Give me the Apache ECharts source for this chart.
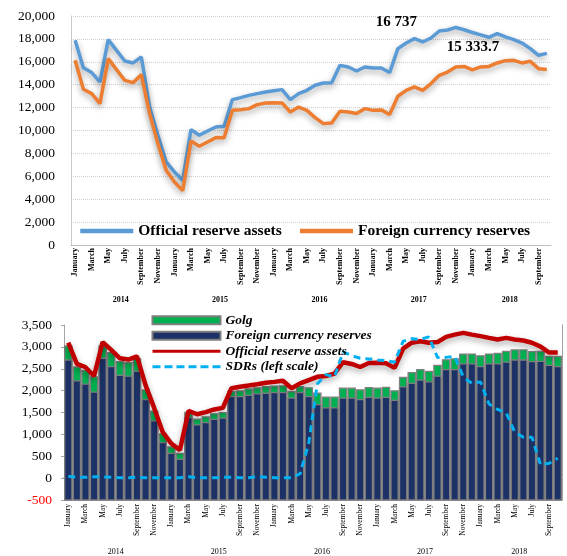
<!DOCTYPE html>
<html>
<head>
<meta charset="utf-8">
<script src="https://cdn.jsdelivr.net/npm/echarts@6/dist/echarts.min.js"></script>
<style>
  html, body { margin: 0; padding: 0; background: #fff; }
  #chart { width: 567px; height: 556px; }
</style>
</head>
<body>
<div id="chart"></div>
<script>
// months Jan 2014 .. Oct 2018
const monthNames = ['January', 'February', 'March', 'April', 'May', 'June', 'July',
  'August', 'September', 'October', 'November', 'December'];
const years = ['2014', '2015', '2016', '2017', '2018'];
const monthsInYear = [12, 12, 12, 12, 10];

// top chart, USD mln
const officialTop = [17880, 15490, 15060, 14240, 17940, 17000, 16070, 15900, 16420, 12050, 9580, 7250,
  6380, 5650, 10080, 9580, 9960, 10310, 10370, 12700, 12870, 13070, 13220, 13360,
  13480, 13570, 12700, 13220, 13510, 13950, 14150, 14180, 15690, 15550, 15200, 15550,
  15460, 15460, 15060, 17150, 17640, 18020, 17730, 18080, 18690, 18780, 19000, 18800,
  18560, 18350, 18140, 18460, 18170, 17940, 17640, 17150, 16570, 16737];
const foreignTop = [16130, 13600, 13220, 12350, 16280, 15320, 14380, 14180, 14880, 11480, 8860, 6520,
  5500, 4750, 9080, 8620, 9000, 9380, 9360, 11760, 11820, 11910, 12260, 12400,
  12420, 12400, 11620, 12050, 11760, 11120, 10600, 10660, 11680, 11620, 11480, 11910,
  11760, 11800, 11390, 12990, 13510, 13800, 13510, 14100, 14820, 15100, 15550, 15600,
  15300, 15550, 15600, 15900, 16100, 16130, 15900, 16040, 15400, 15333.7];

// bottom chart
const foreignBottom = [2700, 2225, 2150, 1965, 2740, 2550, 2350, 2330, 2440, 1795, 1310, 810,
  565, 430, 1385, 1215, 1270, 1345, 1370, 1865, 1865, 1890, 1925, 1940,
  1955, 1955, 1830, 1955, 1865, 1680, 1605, 1605, 1830, 1830, 1795, 1845,
  1830, 1845, 1780, 2085, 2165, 2240, 2200, 2330, 2480, 2480, 2610, 2610,
  2550, 2610, 2610, 2650, 2700, 2700, 2665, 2670, 2575, 2550];
const gold = [320, 315, 310, 350, 280, 320, 315, 310, 285, 220, 220, 200,
  150, 135, 115, 135, 130, 125, 125, 115, 130, 150, 140, 150,
  150, 155, 150, 135, 200, 260, 245, 245, 225, 225, 220, 225,
  225, 230, 215, 215, 245, 240, 240, 245, 225, 245, 225, 225,
  245, 225, 240, 245, 230, 230, 225, 225, 210, 230];
const officialBottom = [3095, 2610, 2535, 2335, 3110, 2930, 2740, 2710, 2785, 2125, 1605, 1050,
  790, 640, 1535, 1460, 1510, 1570, 1605, 2055, 2090, 2115, 2145, 2180,
  2200, 2225, 2055, 2165, 2240, 2315, 2335, 2390, 2650, 2610, 2540, 2630,
  2635, 2625, 2520, 2960, 3095, 3130, 3095, 3110, 3230, 3280, 3320, 3280,
  3245, 3205, 3170, 3205, 3170, 3145, 3095, 3005, 2870, 2870];
const sdr = [40, 20, 20, 30, 30, 20, 10, 10, 20, 10, 10, 10,
  10, 10, 30, 10, 10, 10, 20, 20, 10, 10, 40, 20,
  10, 10, 10, 100, 800, 2150, 2365, 2315, 2885, 2800, 2740, 2725,
  2700, 2685, 2650, 3130, 3185, 3170, 3230, 2760, 2760, 2785, 2315, 2165,
  2200, 1695, 1570, 1495, 1050, 935, 935, 305, 340, 455];

const yTop = { min: 0, max: 20000, step: 2000 };
const yBottom = { min: -500, max: 3500, step: 500 };

// category lists
const months = [];
const yearOfMonth = [];
const yearLabelIdx = [];
let start = 0;
years.forEach((y, k) => {
  for (let m = 0; m < monthsInYear[k]; m++) {
    months.push(monthNames[m]);
    yearOfMonth.push(y);
  }
  yearLabelIdx.push(start + Math.floor(monthsInYear[k] / 2));
  start += monthsInYear[k];
});

const serif = '"Liberation Serif", "DejaVu Serif", serif';
const fmt = v => v.toLocaleString('en-US');
const spaced = v => String(v).replace(/\B(?=(\d{3})+(?!\d))/g, ' ');
const lineShadow = { shadowColor: 'rgba(0,0,0,0.35)', shadowBlur: 6, shadowOffsetY: 3 };

// bars in the lower panel rise from the axis minimum (-500), like in Excel
const barFromMin = (params, api) => {
  const i = api.value(0);
  const top = api.coord([i, api.value(1)]);
  const base = api.coord([i, yBottom.min]);
  const bw = api.size([1, 0])[0] * 0.84;
  return {
    type: 'rect',
    shape: { x: top[0] - bw / 2, y: top[1], width: bw, height: base[1] - top[1] },
    style: api.style()
  };
};

const chart = echarts.init(document.getElementById('chart'));

const hideDot = { itemStyle: { opacity: 0 } };

const option = {
  animation: false,
  grid: [
    { left: 71, right: 16, top: 16, height: 229 },
    { left: 64, right: 5, top: 325, height: 179 }
  ],
  legend: [
    {
      data: [
        Object.assign({ name: 'Official reserve assets' }, hideDot),
        Object.assign({ name: 'Foreign currency reserves' }, hideDot)
      ],
      left: 73, top: 218,
      itemWidth: 53, itemHeight: 12, itemGap: 16,
      lineStyle: { width: 4.5 },
      textStyle: { fontFamily: serif, fontWeight: 'bold', fontSize: 15.5, color: '#000' }
    },
    {
      data: [
        { name: 'Golg', icon: 'rect' },
        { name: 'Foreign currency reserves ', icon: 'rect' },
        Object.assign({ name: 'Official reserve assets ', lineStyle: { width: 3 } }, hideDot),
        Object.assign({ name: 'SDRs (left scale)', lineStyle: { width: 3, type: [8, 4] } }, hideDot)
      ],
      orient: 'vertical',
      left: 146, top: 308,
      itemWidth: 68, itemHeight: 8, itemGap: 1,
      textStyle: { fontFamily: serif, fontWeight: 'bold', fontStyle: 'italic', fontSize: 13.5, lineHeight: 14.5, color: '#000' }
    }
  ],
  xAxis: [
    {
      gridIndex: 0, type: 'category', data: months,
      axisLine: { lineStyle: { color: '#bfbfbf' } },
      axisTick: { interval: (i) => i % 2 === 1, length: 42, lineStyle: { color: '#d9d9d9' } },
      axisLabel: { interval: 1, rotate: 90, margin: 3, fontSize: 8, fontWeight: 'bold', fontFamily: serif, color: '#000' }
    },
    {
      gridIndex: 0, type: 'category', data: yearOfMonth, position: 'bottom', offset: 61,
      axisLine: { show: false },
      axisTick: { inside: true, interval: (i) => i % 12 === 0, length: 61, lineStyle: { color: '#d9d9d9' } },
      axisLabel: { inside: true, margin: 2, interval: (i) => yearLabelIdx.includes(i), padding: [0, 8, 0, 0],
        fontSize: 8, fontWeight: 'bold', fontFamily: serif, color: '#000' }
    },
    {
      gridIndex: 1, type: 'category', data: months,
      axisLine: { lineStyle: { color: '#a6a6a6', width: 2 } },
      axisTick: { interval: (i) => i % 2 === 0, length: 39, lineStyle: { color: '#8c8c8c', type: 'dotted' } },
      axisLabel: { interval: 1, rotate: 90, margin: 4, fontSize: 7.5, fontFamily: serif, color: '#000' }
    },
    {
      gridIndex: 1, type: 'category', data: yearOfMonth, position: 'bottom', offset: 58,
      axisLine: { show: false },
      axisTick: { inside: true, interval: (i) => i % 12 === 0, length: 58, lineStyle: { color: '#8c8c8c', type: 'dotted' } },
      axisLabel: { inside: true, margin: 2, interval: (i) => yearLabelIdx.includes(i), padding: [0, 8, 0, 0],
        fontSize: 8, fontFamily: serif, color: '#000' }
    }
  ],
  yAxis: [
    {
      gridIndex: 0, type: 'value', min: yTop.min, max: yTop.max, interval: yTop.step,
      axisLine: { show: true, lineStyle: { color: '#bfbfbf', type: 'dotted' } },
      axisTick: { show: false },
      splitLine: { lineStyle: { color: '#d0d0d0', type: 'dotted' } },
      axisLabel: { formatter: fmt, margin: 16, fontSize: 13.5, fontFamily: serif, color: '#000' }
    },
    {
      gridIndex: 1, type: 'value', min: yBottom.min, max: yBottom.max, interval: yBottom.step,
      axisLine: { show: true, lineStyle: { color: '#a6a6a6' } },
      axisTick: { show: true, length: 3, lineStyle: { color: '#a6a6a6' } },
      splitLine: { show: false },
      axisLabel: { formatter: fmt, margin: 12, fontSize: 13.5, fontFamily: serif,
        color: (v) => (Number(v) < 0 ? '#ff0000' : '#000') }
    },
    {
      gridIndex: 1, type: 'value', position: 'right', min: yBottom.min, max: yBottom.max, interval: yBottom.step,
      axisLine: { show: true, lineStyle: { color: '#8c8c8c', type: 'dotted' } },
      axisTick: { show: false }, axisLabel: { show: false }, splitLine: { show: false }
    }
  ],
  series: [
    {
      name: 'Official reserve assets', type: 'line', xAxisIndex: 0, yAxisIndex: 0,
      data: officialTop, symbol: 'none', color: '#5b9bd5',
      lineStyle: Object.assign({ width: 3.5 }, lineShadow),
      endLabel: { show: true, formatter: (p) => spaced(p.value), offset: [-179, -31],
        fontFamily: serif, fontWeight: 'bold', fontSize: 15, color: '#000' }
    },
    {
      name: 'Foreign currency reserves', type: 'line', xAxisIndex: 0, yAxisIndex: 0,
      data: foreignTop, symbol: 'none', color: '#ed7d31',
      lineStyle: Object.assign({ width: 3.5 }, lineShadow),
      endLabel: { show: true, formatter: (p) => spaced(p.value), offset: [-108, -22],
        fontFamily: serif, fontWeight: 'bold', fontSize: 15, color: '#000' }
    },
    {
      // gold sits on top of the foreign currency part
      name: 'Golg', type: 'custom', xAxisIndex: 2, yAxisIndex: 1,
      renderItem: barFromMin,
      encode: { x: 0, y: 1 },
      data: foreignBottom.map((v, i) => [i, v + gold[i]]),
      itemStyle: { color: '#00b050', borderColor: '#7f7f7f', borderWidth: 1.3 }
    },
    {
      name: 'Foreign currency reserves ', type: 'custom', xAxisIndex: 2, yAxisIndex: 1,
      renderItem: barFromMin,
      encode: { x: 0, y: 1 },
      data: foreignBottom.map((v, i) => [i, v]),
      itemStyle: { color: '#1c3166', borderColor: '#7f7f7f', borderWidth: 1.3 }
    },
    {
      name: 'Official reserve assets ', type: 'line', xAxisIndex: 2, yAxisIndex: 1,
      data: officialBottom, symbol: 'none', color: '#c00000',
      lineStyle: Object.assign({ width: 4.5 }, lineShadow)
    },
    {
      name: 'SDRs (left scale)', type: 'line', xAxisIndex: 2, yAxisIndex: 1,
      data: sdr, symbol: 'none', color: '#00b0f0',
      lineStyle: { width: 3, type: [7, 5] }
    }
  ]
};

chart.setOption(option);
</script>
</body>
</html>
